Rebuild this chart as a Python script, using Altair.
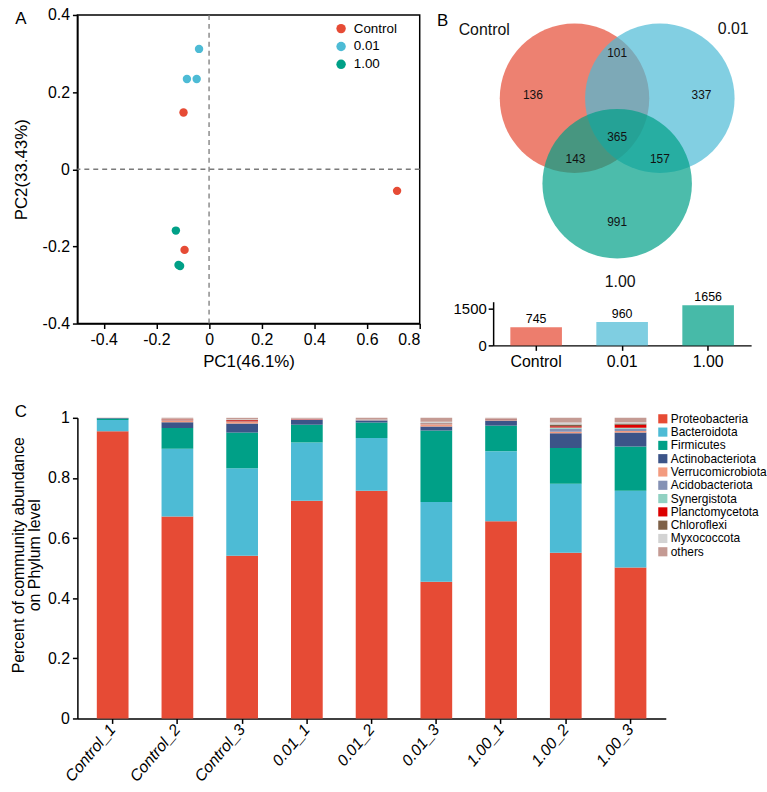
import altair as alt
import pandas as pd

FONT = "Liberation Sans"

# ---------------- Panel A : PCA ----------------
groups = ["Control", "0.01", "1.00"]
group_colors = ["#E64B35", "#4DBBD5", "#00A087"]
pca_group = ["Control", "Control", "Control", "0.01", "0.01", "0.01", "1.00", "1.00", "1.00"]
pca_pc1 = [-0.097, -0.093, 0.714, -0.038, -0.084, -0.047, -0.126, -0.116, -0.110]
pca_pc2 = [0.147, -0.209, -0.056, 0.312, 0.234, 0.234, -0.159, -0.248, -0.251]
pc1_ticks = [-0.4, -0.2, 0, 0.2, 0.4, 0.6, 0.8]
pc2_ticks = [-0.4, -0.2, 0, 0.2, 0.4]

# ---------------- Panel B : Venn + set sizes ----------------
venn_cx = [82, 168, 125]
venn_cy = [84, 84, 170]
venn_region_counts = ["136", "101", "337", "365", "143", "157", "991"]
venn_region_x = [40, 125, 210, 125, 83, 168, 125]
venn_region_y = [81, 38, 81, 123, 145, 145, 209]
venn_label_x = [-9, 242, 128]
venn_label_y = [15, 14, 269]
set_sizes = [745, 960, 1656]
set_ticks = [0, 500, 1500]

# ---------------- Panel C : phylum composition ----------------
samples = ["Control_1", "Control_2", "Control_3", "0.01_1", "0.01_2", "0.01_3",
           "1.00_1", "1.00_2", "1.00_3"]
phyla = ["Proteobacteria", "Bacteroidota", "Firmicutes", "Actinobacteriota",
         "Verrucomicrobiota", "Acidobacteriota", "Synergistota", "Planctomycetota",
         "Chloroflexi", "Myxococcota", "others"]
phyla_colors = ["#E64B35", "#4DBBD5", "#00A087", "#3C5488", "#F39B7F", "#8491B4",
                "#91D1C2", "#DC0000", "#7E6148", "#D3D3D3", "#C49A93"]
proteobacteria = [0.955, 0.672, 0.541, 0.724, 0.757, 0.455, 0.656, 0.551, 0.502]
bacteroidota = [0.038, 0.225, 0.291, 0.194, 0.176, 0.265, 0.233, 0.230, 0.255]
firmicutes = [0.005, 0.069, 0.119, 0.059, 0.051, 0.238, 0.085, 0.119, 0.148]
actinobacteriota = [0.001, 0.019, 0.030, 0.016, 0.007, 0.013, 0.017, 0.049, 0.046]
verrucomicrobiota = [0.000, 0.005, 0.005, 0.001, 0.001, 0.008, 0.002, 0.005, 0.005]
acidobacteriota = [0.000, 0.001, 0.001, 0.001, 0.001, 0.001, 0.001, 0.010, 0.008]
synergistota = [0.000, 0.001, 0.001, 0.000, 0.001, 0.001, 0.000, 0.004, 0.003]
planctomycetota = [0.000, 0.002, 0.004, 0.001, 0.001, 0.001, 0.001, 0.004, 0.010]
chloroflexi = [0.000, 0.001, 0.001, 0.000, 0.000, 0.001, 0.001, 0.006, 0.004]
myxococcota = [0.000, 0.002, 0.002, 0.001, 0.001, 0.004, 0.001, 0.006, 0.004]
others = [0.001, 0.003, 0.005, 0.003, 0.004, 0.013, 0.003, 0.016, 0.015]
abund_ticks = [0, 0.2, 0.4, 0.6, 0.8, 1]

# ================= build panel A =================
df_pca = pd.DataFrame({"group": pca_group, "pc1": pca_pc1, "pc2": pca_pc2})
xA = alt.Scale(domain=[-0.5, 0.8], nice=False, zero=False)
yA = alt.Scale(domain=[-0.4, 0.4], nice=False, zero=False)

pts = alt.Chart(df_pca).mark_circle(size=72, opacity=1).encode(
    x=alt.X("pc1:Q", scale=xA,
            axis=alt.Axis(values=pc1_ticks, labelExpr="'' + datum.value", title="PC1(46.1%)",
                          labelFontSize=16, titleFontSize=17, titlePadding=6, tickSize=5,
                          labelPadding=3)),
    y=alt.Y("pc2:Q", scale=yA,
            axis=alt.Axis(values=pc2_ticks, labelExpr="'' + datum.value", title="PC2(33.43%)",
                          labelFontSize=16, titleFontSize=17, titlePadding=12, tickSize=5,
                          labelPadding=3)),
    color=alt.Color("group:N", scale=alt.Scale(domain=groups, range=group_colors),
                    legend=alt.Legend(title=None, orient="none", legendX=259, legendY=7,
                                      symbolType="circle", symbolSize=90, labelFontSize=13.5,
                                      rowPadding=3, padding=0, labelOffset=6)),
)
zero_df = pd.DataFrame({"v": [0]})
vline = alt.Chart(zero_df).mark_rule(color="#7a7a7a", strokeDash=[5, 4], strokeWidth=1.3).encode(
    x=alt.X("v:Q", scale=xA))
hline = alt.Chart(zero_df).mark_rule(color="#7a7a7a", strokeDash=[5, 4], strokeWidth=1.3).encode(
    y=alt.Y("v:Q", scale=yA))
letterA = alt.Chart(pd.DataFrame({"t": ["A"]})).mark_text(
    fontSize=17, align="center", baseline="middle").encode(
    x=alt.value(-57), y=alt.value(4), text="t:N")

panelA = alt.layer(vline, hline, pts, letterA).properties(
    width=345, height=311,
    view=alt.ViewBackground(stroke="black", strokeWidth=1.5))

# ================= build panel B (Venn) =================
xV = alt.Scale(domain=[0, 260], nice=False, zero=False)
yV = alt.Scale(domain=[0, 270], nice=False, zero=False, reverse=True)
df_venn = pd.DataFrame({"set": groups, "cx": venn_cx, "cy": venn_cy})
circles = alt.Chart(df_venn).mark_circle(size=22698, opacity=0.7).encode(
    x=alt.X("cx:Q", scale=xV, axis=None),
    y=alt.Y("cy:Q", scale=yV, axis=None),
    color=alt.Color("set:N", scale=alt.Scale(domain=groups, range=group_colors), legend=None),
    order=alt.Order("idx:Q"),
).transform_calculate(idx="indexof(['Control','0.01','1.00'], datum.set)")
df_reg = pd.DataFrame({"n": venn_region_counts, "x": venn_region_x, "y": venn_region_y})
region_txt = alt.Chart(df_reg).mark_text(fontSize=12, color="#111").encode(
    x=alt.X("x:Q", scale=xV, axis=None), y=alt.Y("y:Q", scale=yV, axis=None), text="n:N")
df_lab = pd.DataFrame({"s": groups, "x": venn_label_x, "y": venn_label_y})
set_txt = alt.Chart(df_lab).mark_text(fontSize=16, color="#111").encode(
    x=alt.X("x:Q", scale=xV, axis=None), y=alt.Y("y:Q", scale=yV, axis=None), text="s:N")
letterB = alt.Chart(pd.DataFrame({"t": ["B"]})).mark_text(
    fontSize=17, align="center", baseline="middle").encode(
    x=alt.value(-51), y=alt.value(6), text="t:N")
venn = alt.layer(circles, region_txt, set_txt, letterB).properties(width=260, height=270)

# ================= panel B (set size bars) =================
df_sz = pd.DataFrame({"set": groups, "n": set_sizes})
xS = alt.X("set:N", sort=groups, scale=alt.Scale(paddingInner=0.4, paddingOuter=0.2),
           axis=alt.Axis(title=None, labelAngle=0, labelFontSize=16, tickSize=5, labelPadding=3))
yS = alt.Y("n:Q", scale=alt.Scale(domain=[0, 1800], nice=False),
           axis=alt.Axis(values=set_ticks, labelExpr="'' + datum.value", title=None,
                         labelFontSize=15, tickSize=5, labelPadding=2))
sbars = alt.Chart(df_sz).mark_bar(opacity=0.72).encode(
    x=xS, y=yS,
    color=alt.Color("set:N", scale=alt.Scale(domain=groups, range=group_colors), legend=None))
stxt = alt.Chart(df_sz).mark_text(fontSize=12.5, dy=-8, baseline="middle").encode(
    x=alt.X("set:N", sort=groups), y="n:Q", text="n:Q")
sizebar = alt.layer(sbars, stxt).properties(width=260, height=44)

panelB = alt.vconcat(venn, sizebar, spacing=1).resolve_scale(color="independent")

# ================= panel C =================
cols = [proteobacteria, bacteroidota, firmicutes, actinobacteriota, verrucomicrobiota,
        acidobacteriota, synergistota, planctomycetota, chloroflexi, myxococcota, others]
rows = []
for i, (name, vals) in enumerate(zip(phyla, cols)):
    for s, v in zip(samples, vals):
        rows.append({"sample": s, "phylum": name, "value": v, "idx": i})
df_c = pd.DataFrame(rows)

barsC = alt.Chart(df_c).mark_bar().encode(
    x=alt.X("sample:N", sort=samples, scale=alt.Scale(paddingInner=0.51, paddingOuter=0.3),
            axis=alt.Axis(title=None, labelAngle=-50, labelFontStyle="italic", labelFontSize=16,
                          tickSize=5, labelPadding=3)),
    y=alt.Y("value:Q", stack="zero", scale=alt.Scale(domain=[0, 1], nice=False),
            axis=alt.Axis(values=abund_ticks, labelExpr="'' + datum.value",
                          title=["Percent of community abundance", "on Phylum level"],
                          titleFontSize=16, titleLineHeight=16, titlePadding=5, titleY=138,
                          labelFontSize=16, tickSize=5, labelPadding=3)),
    color=alt.Color("phylum:N", scale=alt.Scale(domain=phyla, range=phyla_colors),
                    legend=alt.Legend(title=None, orient="none", legendX=584, legendY=-5,
                                      symbolType="square", symbolSize=85, symbolStrokeWidth=0,
                                      labelFontSize=12, rowPadding=1.4, padding=0,
                                      labelOffset=2)),
    order=alt.Order("idx:Q", sort="ascending"),
)
letterC = alt.Chart(pd.DataFrame({"t": ["C"]})).mark_text(
    fontSize=17, align="center", baseline="middle").encode(
    x=alt.value(-57), y=alt.value(-6), text="t:N")
panelC = alt.layer(barsC, letterC).properties(width=593, height=303)

top = alt.hconcat(panelA, panelB, spacing=15).resolve_scale(color="independent")
chart = alt.vconcat(top, alt.hconcat(panelC), spacing=33).resolve_scale(
    color="independent"
).properties(
    padding={"left": 10, "top": 3, "right": 0, "bottom": 0}
).configure(font=FONT).configure_view(stroke=None).configure_axis(
    domainColor="black", tickColor="black", labelColor="black", titleColor="black",
    domainWidth=1.5, tickWidth=1.5, grid=False, titleFontWeight="normal",
    labelFont=FONT, titleFont=FONT
).configure_text(font=FONT).configure_legend(labelFont=FONT, labelColor="black")

chart.save("out.html", embed_options={"renderer": "svg", "actions": False})
